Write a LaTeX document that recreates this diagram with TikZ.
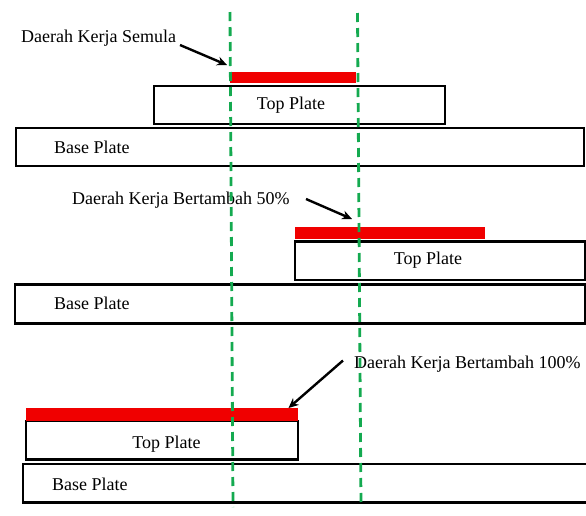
\documentclass[tikz,border=0pt]{standalone}
\usepackage{fontspec}
\setmainfont{Liberation Serif}
\usetikzlibrary{arrows.meta}
\definecolor{guide}{RGB}{20,170,80}
\definecolor{work}{RGB}{240,0,0}
\tikzset{
  plate/.style={draw=black, line width=2.6pt, fill=white},
  work/.style={fill=work, draw=none},
  txt/.style={inner sep=0pt, font=\fontsize{18}{20}\selectfont},
  lbl/.style={inner sep=0pt, anchor=west, font=\fontsize{18}{20}\selectfont},
  arr/.style={line width=2.4pt, -{Stealth[length=10pt,width=9pt]}},
  guideline/.style={draw=guide, line width=2.8pt, dash pattern=on 9pt off 6pt}
}
\begin{document}
\begin{tikzpicture}[x=1pt,y=-1pt]
\useasboundingbox (0,0) rectangle (586,515);
\clip (0,0) rectangle (586,515);
% ---------- case 1 ----------
\path[plate] (16,128) rectangle (584,166);
\node[txt, anchor=west] (b1) at (54,147) {Base Plate};
\path[plate] (154,86) rectangle (445,124);
\node[txt] (t1) at (291,105) {Top Plate};
\path[work] (230,72) rectangle (356,83);
\node[lbl] (l1) at (21,38) {Daerah Kerja Semula};
\coordinate (a1s) at (180,45);
\coordinate (a1e) at (227,65);
\draw[arr] (a1s) -- (a1e);
% ---------- case 2 ----------
\path[plate] (15,284.5) rectangle (585,323.5);
\node[txt, anchor=west] (b2) at (54,303.5) {Base Plate};
\path[plate] (295,241.5) rectangle (585,280);
\node[txt] (t2) at (428,260) {Top Plate};
\path[work] (295,227) rectangle (485,239);
\node[lbl] (l2) at (72,200.5) {Daerah Kerja Bertambah 50\%};
\coordinate (a2s) at (306,199);
\coordinate (a2e) at (352,219);
\draw[arr] (a2s) -- (a2e);
% ---------- case 3 ----------
\path[plate] (23,464) rectangle (592,502.5);
\node[txt, anchor=west] (b3) at (52,484) {Base Plate};
\path[plate] (26,421) rectangle (298,459.5);
\node[txt] (t3) at (166.5,444.5) {Top Plate};
\path[work] (26,408) rectangle (298,421);
\node[lbl] (l3) at (354,364) {Daerah Kerja Bertambah 100\%};
\coordinate (a3s) at (343,360.5);
\coordinate (a3e) at (288.5,408);
\draw[arr] (a3s) -- (a3e);
% ---------- guide lines ----------
\coordinate (g1t) at (230,12);
\coordinate (g1b) at (233,507);
\coordinate (g2t) at (357.5,13);
\coordinate (g2b) at (361,507);
\draw[guideline] (g1t) -- (g1b);
\draw[guideline] (g2t) -- (g2b);
\end{tikzpicture}
\end{document}
